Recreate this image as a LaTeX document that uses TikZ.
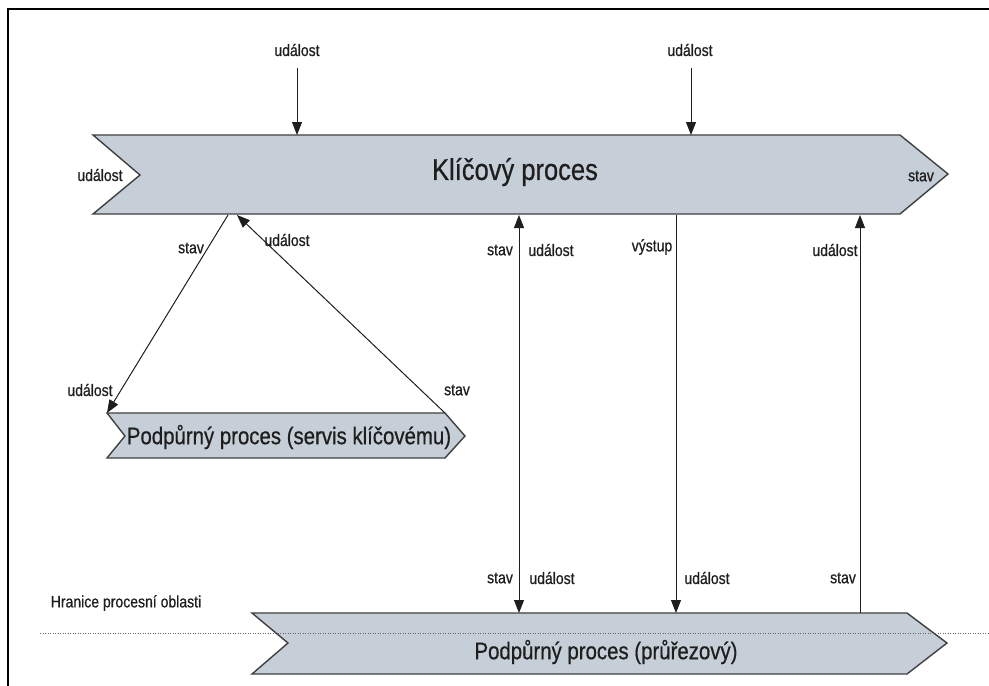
\documentclass[tikz,border=0pt]{standalone}
\usepackage{fontspec}
\setmainfont{Liberation Sans}
\newfontfamily\narrowsans[FakeStretch=0.85,FakeBold=0.6]{Liberation Sans}
\usetikzlibrary{arrows.meta}
\definecolor{procfill}{RGB}{198,207,216}
\definecolor{ink}{RGB}{30,30,30}
\begin{document}
\begin{tikzpicture}[x=1pt,y=-1pt,
  procshape/.style={draw=ink!85, line width=1.4pt, fill=procfill, line join=miter},
  lbl/.style={font=\narrowsans\fontsize{16.5}{18}\selectfont, text=ink, inner sep=0pt},
  title/.style={font=\narrowsans\fontsize{24}{26}\selectfont, text=ink, inner sep=0pt},
  bigtitle/.style={font=\narrowsans\fontsize{30}{32}\selectfont, text=ink, inner sep=0pt},
  conn/.style={draw=ink, line width=1pt, -{Triangle[length=13pt,width=10pt]}},
  connboth/.style={draw=ink, line width=1pt, {Triangle[length=13pt,width=10pt]}-{Triangle[length=13pt,width=10pt]}},
  plain/.style={draw=ink, line width=1pt}]
\useasboundingbox (0,0) rectangle (989,686);
\fill[white] (0,0) rectangle (989,686);

% frame
\draw[line width=2pt, black] (8,686) -- (8,9) -- (989,9);

% key process
\draw[procshape] (93,135) -- (900,135) -- (948,174) -- (900,214) -- (93,214) -- (140,175) -- cycle;
\node[bigtitle] (key) at (515,172) {Klíčový proces};
\node[lbl] (keyin) at (100,175) {událost};
\node[lbl] (keyout) at (921,176) {stav};

% supporting process serving the key process
\draw[procshape] (107,413) -- (445,413) -- (465,436) -- (445,458) -- (107,458) -- (125,436) -- cycle;
\node[title] (serv) at (289,437) {Podpůrný proces (servis klíčovému)};

% cross-cutting supporting process
\draw[procshape] (252,613) -- (907,613) -- (947,643) -- (907,674) -- (252,674) -- (288,643) -- cycle;
\node[title] (cross) at (606,652) {Podpůrný proces (průřezový)};

% boundary of the process area
\draw[gray!80!black, line width=0.9pt, dash pattern=on 1.2pt off 1.3pt] (40,633) -- (989,633);
\node[lbl] (bound) at (126,603) {Hranice procesní oblasti};

% anchor points on the process edges
\coordinate (kt1) at (297,135);
\coordinate (kt2) at (691,135);
\coordinate (kb1) at (228,215);
\coordinate (kb2) at (237,215);
\coordinate (kb3) at (519,215);
\coordinate (kb4) at (676,215);
\coordinate (kb5) at (860,215);
\coordinate (st1) at (107,413);
\coordinate (st2) at (445,413);
\coordinate (ct1) at (519,613);
\coordinate (ct2) at (676,613);
\coordinate (ct3) at (860,613);

% incoming events on the key process
\node[lbl] (ev1) at (297,50) {událost};
\node[lbl] (ev2) at (690,50) {událost};
\coordinate (ev1s) at (297,68);
\coordinate (ev2s) at (691,68);
\draw[conn] (ev1s) -- (kt1);
\draw[conn] (ev2s) -- (kt2);

% key process <-> serving process
\draw[conn] (kb1) -- (st1);
\draw[conn] (st2) -- (kb2);
\node[lbl] (t1) at (191,248) {stav};
\node[lbl] (t2) at (287,240) {událost};
\node[lbl] (t3) at (90,390) {událost};
\node[lbl] (t4) at (457,390) {stav};

% key process <-> cross-cutting process
\draw[connboth] (kb3) -- (ct1);
\draw[conn] (kb4) -- (ct2);
\draw[conn] (ct3) -- (kb5);
\node[lbl] (u1) at (500,250) {stav};
\node[lbl] (u2) at (551,250) {událost};
\node[lbl] (u3) at (652,247) {výstup};
\node[lbl] (u4) at (835,250) {událost};
\node[lbl] (d1) at (500,578) {stav};
\node[lbl] (d2) at (552,578) {událost};
\node[lbl] (d3) at (707,578) {událost};
\node[lbl] (d4) at (843,578) {stav};
\end{tikzpicture}
\end{document}
